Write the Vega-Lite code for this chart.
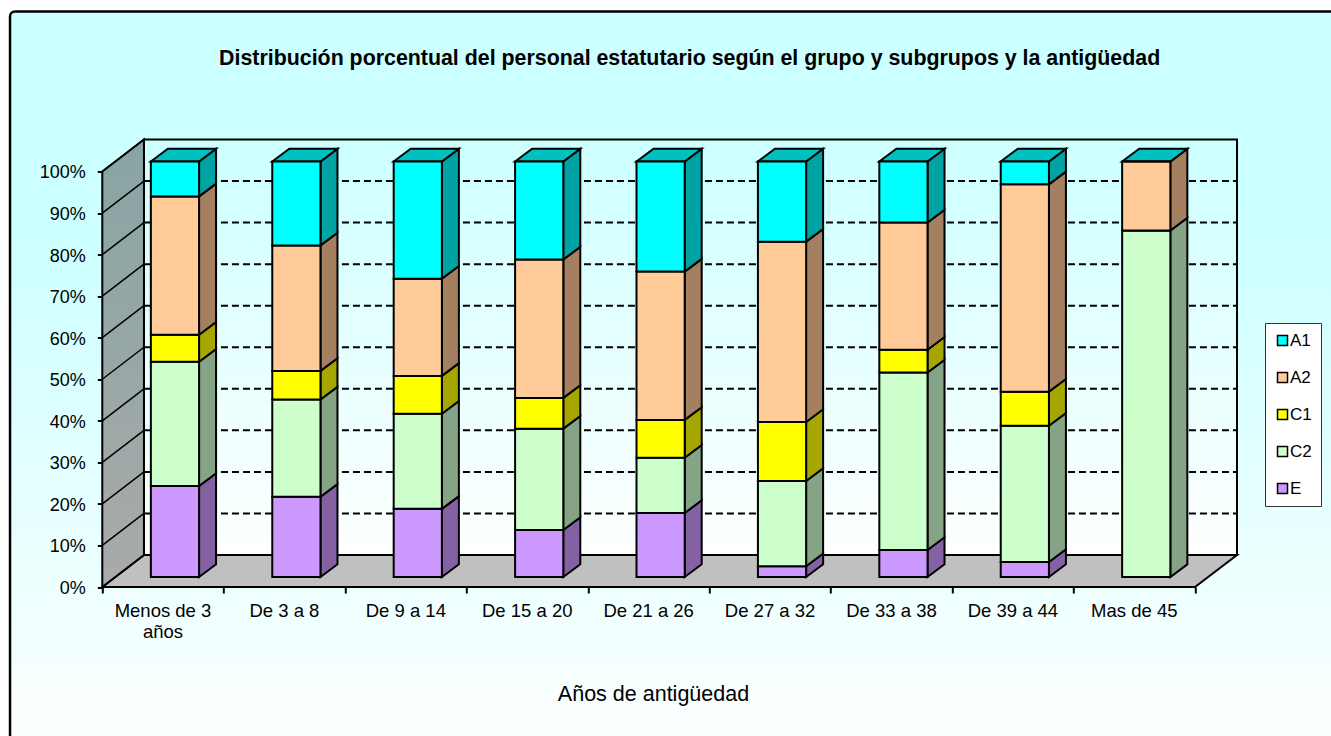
{
"$schema":"https://vega.github.io/schema/vega-lite/v6.json",
"width":1134.7,"height":447.5,
"autosize":{"type":"none"},
"padding":{"left":102.3,"top":139.5,"right":94,"bottom":149},
"background":"white",
"view":{"stroke":null},
"config":{"font":"Liberation Sans","axis":{"labelFont":"Liberation Sans","titleFont":"Liberation Sans"},"legend":{"labelFont":"Liberation Sans"}},
"title":{"text":"Distribución porcentual del personal estatutario según el grupo y subgrupos y la antigüedad","font":"Liberation Sans","fontSize":21.36,"fontWeight":"bold","color":"black","anchor":"middle","dx":20,"offset":-59},
"datasets":{
"ticks":[{"v":0},{"v":10},{"v":20},{"v":30},{"v":40},{"v":50},{"v":60},{"v":70},{"v":80},{"v":90},{"v":100}],
"rows":[
{"cat":"Menos de 3 años","i":0,"group":"E","pct":21.9},{"cat":"Menos de 3 años","i":0,"group":"C2","pct":29.9},{"cat":"Menos de 3 años","i":0,"group":"C1","pct":6.5},{"cat":"Menos de 3 años","i":0,"group":"A2","pct":33.3},{"cat":"Menos de 3 años","i":0,"group":"A1","pct":8.4},
{"cat":"De 3 a 8","i":1,"group":"E","pct":19.3},{"cat":"De 3 a 8","i":1,"group":"C2","pct":23.4},{"cat":"De 3 a 8","i":1,"group":"C1","pct":6.9},{"cat":"De 3 a 8","i":1,"group":"A2","pct":30.2},{"cat":"De 3 a 8","i":1,"group":"A1","pct":20.2},
{"cat":"De 9 a 14","i":2,"group":"E","pct":16.4},{"cat":"De 9 a 14","i":2,"group":"C2","pct":22.9},{"cat":"De 9 a 14","i":2,"group":"C1","pct":9.1},{"cat":"De 9 a 14","i":2,"group":"A2","pct":23.4},{"cat":"De 9 a 14","i":2,"group":"A1","pct":28.2},
{"cat":"De 15 a 20","i":3,"group":"E","pct":11.3},{"cat":"De 15 a 20","i":3,"group":"C2","pct":24.4},{"cat":"De 15 a 20","i":3,"group":"C1","pct":7.4},{"cat":"De 15 a 20","i":3,"group":"A2","pct":33.3},{"cat":"De 15 a 20","i":3,"group":"A1","pct":23.6},
{"cat":"De 21 a 26","i":4,"group":"E","pct":15.4},{"cat":"De 21 a 26","i":4,"group":"C2","pct":13.3},{"cat":"De 21 a 26","i":4,"group":"C1","pct":9.1},{"cat":"De 21 a 26","i":4,"group":"A2","pct":35.7},{"cat":"De 21 a 26","i":4,"group":"A1","pct":26.5},
{"cat":"De 27 a 32","i":5,"group":"E","pct":2.6},{"cat":"De 27 a 32","i":5,"group":"C2","pct":20.5},{"cat":"De 27 a 32","i":5,"group":"C1","pct":14.2},{"cat":"De 27 a 32","i":5,"group":"A2","pct":43.4},{"cat":"De 27 a 32","i":5,"group":"A1","pct":19.3},
{"cat":"De 33 a 38","i":6,"group":"E","pct":6.5},{"cat":"De 33 a 38","i":6,"group":"C2","pct":42.7},{"cat":"De 33 a 38","i":6,"group":"C1","pct":5.5},{"cat":"De 33 a 38","i":6,"group":"A2","pct":30.6},{"cat":"De 33 a 38","i":6,"group":"A1","pct":14.7},
{"cat":"De 39 a 44","i":7,"group":"E","pct":3.6},{"cat":"De 39 a 44","i":7,"group":"C2","pct":32.8},{"cat":"De 39 a 44","i":7,"group":"C1","pct":8.2},{"cat":"De 39 a 44","i":7,"group":"A2","pct":49.9},{"cat":"De 39 a 44","i":7,"group":"A1","pct":5.5},
{"cat":"Mas de 45","i":8,"group":"E","pct":0},{"cat":"Mas de 45","i":8,"group":"C2","pct":83.4},{"cat":"Mas de 45","i":8,"group":"C1","pct":0},{"cat":"Mas de 45","i":8,"group":"A2","pct":16.6},{"cat":"Mas de 45","i":8,"group":"A1","pct":0}
]},
"layer":[
{"data":{"values":[{"part":"frame"}]},
 "mark":{"type":"rect","stroke":"black","strokeWidth":2.5,"cornerRadius":5,"fill":{"gradient":"linear","x1":0,"y1":0,"x2":0,"y2":1,"stops":[{"offset":0,"color":"#ccffff"},{"offset":0.3,"color":"#ccffff"},{"offset":1,"color":"#ffffff"}]}},
 "encoding":{
  "x":{"datum":-0.76,"type":"quantitative","scale":{"domain":[0,9.346],"nice":false,"zero":false},"axis":{"values":[0,1,2,3,4,5,6,7,8,9],"labels":false,"domain":false,"grid":false,"tickSize":6,"tickWidth":2,"tickColor":"black","zindex":1,"title":"Años de antigüedad","titleFontSize":21.5,"titleFontWeight":"normal","titleColor":"black","titleX":550.7,"titleY":107,"titleBaseline":"middle"}},
  "x2":{"datum":10.5},
  "y":{"datum":138.5,"type":"quantitative","scale":{"domain":[0,107.7],"nice":false,"zero":false},"axis":{"values":[0,10,20,30,40,50,60,70,80,90,100],"labelExpr":"datum.value + '%'","domain":false,"grid":false,"title":null,"tickSize":5,"tickWidth":2,"tickColor":"black","labelFontSize":18,"labelColor":"black","labelPadding":12,"labelOffset":1.5,"zindex":1}},
  "y2":{"datum":-40}
 }},
{"data":{"values":[{"part":"back wall"}]},
 "mark":{"type":"rect","stroke":"black","strokeWidth":2,"fill":{"gradient":"linear","x1":0,"y1":0,"x2":0,"y2":1,"stops":[{"offset":0,"color":"#ccffff"},{"offset":1,"color":"#ffffff"}]}},
 "encoding":{"x":{"datum":0.343,"type":"quantitative"},"x2":{"datum":9.346},"y":{"datum":7.7,"type":"quantitative"},"y2":{"datum":107.7}}},
{"data":{"values":[{"depth":0},{"depth":1}]},
 "transform":[{"calculate":"datum.depth*7.7","as":"yy"},{"calculate":"datum.depth*0.343","as":"xa"},{"calculate":"9+datum.depth*0.346","as":"xb"}],
 "mark":{"type":"area","orient":"horizontal","fill":"#c0c0c0","stroke":"black","strokeWidth":2},
 "encoding":{"y":{"field":"yy","type":"quantitative"},"x":{"field":"xa","type":"quantitative"},"x2":{"field":"xb"}}},
{"data":{"values":[{"depth":0},{"depth":1}]},
 "transform":[{"calculate":"datum.depth*0.343","as":"xa"},{"calculate":"datum.depth*7.7","as":"ya"},{"calculate":"100+datum.depth*7.7","as":"yb"}],
 "mark":{"type":"area","orient":"vertical","stroke":"black","strokeWidth":2,"fill":{"gradient":"linear","x1":0,"y1":0,"x2":0,"y2":1,"stops":[{"offset":0,"color":"#87a5a3"},{"offset":1,"color":"#aaaaaa"}]}},
 "encoding":{"x":{"field":"xa","type":"quantitative"},"y":{"field":"ya","type":"quantitative"},"y2":{"field":"yb"}}},
{"data":{"name":"ticks"},
 "transform":[{"calculate":"[0,1]","as":"t"},{"flatten":["t"]},{"calculate":"datum.t*0.343","as":"xa"},{"calculate":"datum.v+datum.t*7.7","as":"ya"}],
 "mark":{"type":"line","stroke":"black","strokeWidth":1.5},
 "encoding":{"x":{"field":"xa","type":"quantitative"},"y":{"field":"ya","type":"quantitative"},"detail":{"field":"v"}}},
{"data":{"name":"ticks"},
 "transform":[{"filter":"datum.v>0 && datum.v<100"},{"calculate":"datum.v+7.7","as":"ya"}],
 "mark":{"type":"rule","stroke":"black","strokeWidth":2,"strokeDash":[7,4]},
 "encoding":{"x":{"datum":0.343,"type":"quantitative"},"x2":{"datum":9.346},"y":{"field":"ya","type":"quantitative"}}},
{"data":{"name":"rows"},
 "transform":[
  {"stack":"pct","groupby":["cat"],"sort":[{"field":"group","order":"descending"}],"as":["s0","s1"]},
  {"calculate":"datum.s0+2.41","as":"y0f"},{"calculate":"datum.s1+2.41","as":"y1f"},
  {"calculate":"datum.i+0.4","as":"xl"},{"calculate":"datum.i+0.797","as":"xr"},
  {"calculate":"replace(datum.cat,' años','\\naños')","as":"label"}
 ],
 "layer":[
  {"transform":[{"calculate":"[0,1]","as":"t"},{"flatten":["t"]},{"calculate":"datum.xr+datum.t*0.14","as":"sx"},{"calculate":"datum.y0f+datum.t*3.06","as":"sa"},{"calculate":"datum.y1f+datum.t*3.06","as":"sb"},{"calculate":"datum.cat+datum.group","as":"key"}],
   "mark":{"type":"area","orient":"vertical","stroke":"black","strokeWidth":2},
   "encoding":{"x":{"field":"sx","type":"quantitative"},"y":{"field":"sa","type":"quantitative"},"y2":{"field":"sb"},"detail":{"field":"key"},
    "color":{"field":"group","type":"nominal","legend":null,"scale":{"domain":["A1","A2","C1","C2","E"],"range":["#00a3a3","#a58060","#a6a600","#85a385","#8461a3"]}}}},
  {"transform":[{"filter":"datum.group==='A1'"},{"calculate":"[0,1]","as":"t"},{"flatten":["t"]},{"calculate":"datum.y1f+datum.t*3.06","as":"ty"},{"calculate":"datum.xl+datum.t*0.14","as":"ta"},{"calculate":"datum.xr+datum.t*0.14","as":"tb"}],
   "mark":{"type":"area","orient":"horizontal","stroke":"black","strokeWidth":2},
   "encoding":{"y":{"field":"ty","type":"quantitative"},"x":{"field":"ta","type":"quantitative"},"x2":{"field":"tb"},"detail":{"field":"cat"},
    "color":{"field":"group","type":"nominal","legend":null,"scale":{"domain":["A1"],"range":["#00c0c0"]}}}},
  {"mark":{"type":"rect","stroke":"black","strokeWidth":2},
   "encoding":{"x":{"field":"xl","type":"quantitative"},"x2":{"field":"xr"},"y":{"field":"y0f","type":"quantitative"},"y2":{"field":"y1f"},
    "color":{"field":"group","type":"nominal","scale":{"domain":["A1","A2","C1","C2","E"],"range":["#00ffff","#ffcc99","#ffff00","#ccffcc","#cc99ff"]},
     "legend":{"title":null,"orient":"none","legendX":1162.7,"legendY":183.5,"fillColor":"white","strokeColor":"#333333","padding":9,"symbolType":"square","symbolSize":100,"symbolStrokeColor":"black","symbolStrokeWidth":1.5,"labelFontSize":17,"labelColor":"black","rowPadding":19,"labelOffset":-1}}}},
  {"transform":[{"filter":"datum.group==='A1'"},{"calculate":"datum.i+0.5","as":"lx"},{"calculate":"-3.6","as":"ly"}],
   "mark":{"type":"text","fontSize":18.5,"color":"black","align":"center","baseline":"top","lineBreak":"\n","lineHeight":21},
   "encoding":{"x":{"field":"lx","type":"quantitative"},"y":{"field":"ly","type":"quantitative"},"text":{"field":"label"}}}
 ],
 "resolve":{"scale":{"color":"independent"}}}
]
}
